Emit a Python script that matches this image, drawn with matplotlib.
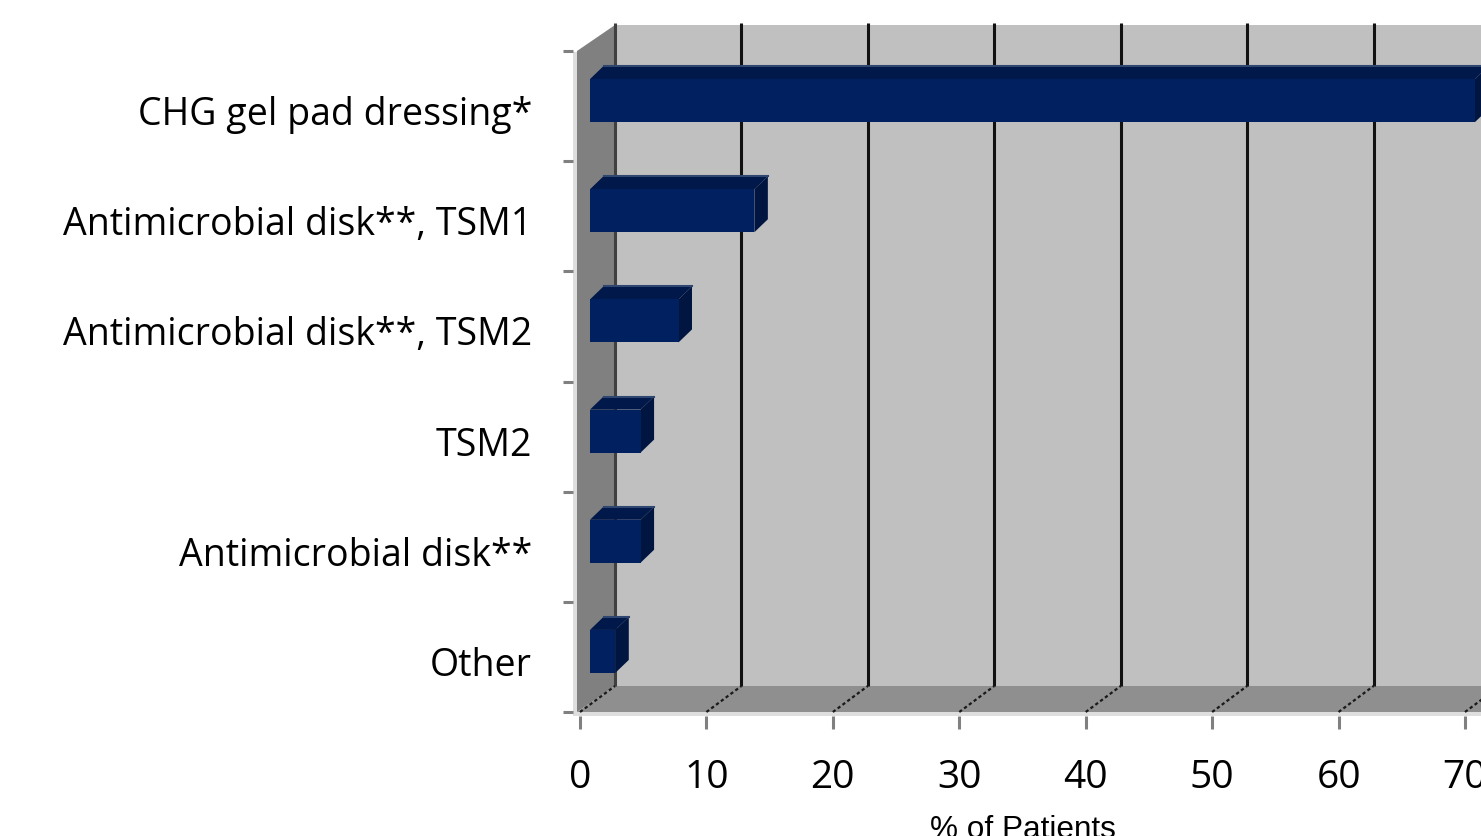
import matplotlib
matplotlib.use("Agg")
import matplotlib.pyplot as plt
from matplotlib.patches import Polygon, Rectangle
from matplotlib.transforms import offset_copy

# ---- data -------------------------------------------------------------
categories = [
    "CHG gel pad dressing*",
    "Antimicrobial disk**, TSM1",
    "Antimicrobial disk**, TSM2",
    "TSM2",
    "Antimicrobial disk**",
    "Other",
]
values = [70, 13, 7, 4, 4, 2]
x_ticks = [0, 10, 20, 30, 40, 50, 60, 70]
x_label = "% of Patients"

# ---- figure / axes geometry (pixels) ----------------------------------
W, H = 1481, 837
DPI = 100
fig = plt.figure(figsize=(W / DPI, H / DPI), dpi=DPI)

x0_px, x70_px = 580, 1465          # front plane: value 0 and value 70
y_top_px, y_bot_px = 52, 713        # front plane: category band extent
px_per_unit = (x70_px - x0_px) / 70.0
n = len(categories)
py_per_cat = (y_bot_px - y_top_px) / n

ax = fig.add_axes([x0_px / W, 1 - y_bot_px / H,
                   (W - x0_px) / W, (y_bot_px - y_top_px) / H])
xmax = (W - x0_px) / px_per_unit
ax.set_xlim(0, xmax)
ax.set_ylim(0, n)
ax.axis("off")


def dx(p):
    return p / px_per_unit


def dy(p):
    return p / py_per_cat


# 3-D depth of the chart box
wdx, wdy = dx(35), dy(26)

BACK = "#c0c0c0"
SIDE = "#808080"
FLOOR = "#8f8f8f"
STRIP = "#dedede"

# back wall
ax.add_patch(Rectangle((wdx, wdy), xmax + 5, n, facecolor=BACK,
                       edgecolor="none", zorder=1, clip_on=False))
# floor
ax.add_patch(Polygon([(dx(-3), 0), (xmax + 5, 0), (xmax + 5, wdy), (wdx, wdy)],
                     closed=True, facecolor=FLOOR, edgecolor="none",
                     zorder=2, clip_on=False))
# side wall
ax.add_patch(Polygon([(dx(-3), 0), (wdx, wdy), (wdx, n + wdy), (dx(-3), n)],
                     closed=True, facecolor=SIDE, edgecolor="none",
                     zorder=2, clip_on=False))
# light edges of the box
ax.add_patch(Rectangle((dx(-7), 0), dx(4), n - dy(1), facecolor=STRIP,
                       edgecolor="none", zorder=2, clip_on=False))
ax.add_patch(Rectangle((dx(-7), dy(-4)), xmax + 5, dy(4), facecolor=STRIP,
                       edgecolor="none", zorder=2, clip_on=False))

# gridlines on the back wall and their traces across the floor
for v in x_ticks:
    col = "#404040" if v == 0 else "#111111"
    ax.plot([v + wdx, v + wdx], [wdy, n + wdy + dy(2)], color=col,
            lw=2.2, solid_capstyle="butt", zorder=3, clip_on=False)
    ax.plot([v, v + wdx], [0, wdy], color="#1a1a1a", lw=1.6,
            ls=(0, (1.5, 1.2)), zorder=3, clip_on=False)

# axis ticks
for k in range(n + 1):
    ax.plot([dx(-17), dx(-7)], [k, k], color="#808080", lw=2.2,
            solid_capstyle="butt", zorder=3, clip_on=False)
for v in x_ticks:
    ax.plot([v, v], [dy(-4), dy(-17)], color="#808080", lw=2.2,
            solid_capstyle="butt", zorder=3, clip_on=False)

# ---- 3-D bars -----------------------------------------------------------
FRONT = "#00205f"
TOP = "#00184a"
RIGHT = "#00153f"
bx, by = dx(10), dy(5.5)          # bar front plane inside the box
half = dy(21.5)                   # half bar thickness
bdx, bdy = dx(13.5), dy(13)       # bar depth

for i, v in enumerate(values):
    c = n - i - 0.5
    x0, x1 = bx, v + bx
    y0, y1 = c - half + by, c + half + by
    ax.add_patch(Polygon([(x0, y1), (x0 + bdx, y1 + bdy),
                          (x1 + bdx, y1 + bdy), (x1, y1)], closed=True,
                         facecolor=TOP, edgecolor="none", zorder=5,
                         clip_on=False))
    ax.add_patch(Polygon([(x1, y0), (x1, y1), (x1 + bdx, y1 + bdy),
                          (x1 + bdx, y0 + bdy)], closed=True,
                         facecolor=RIGHT, edgecolor="none", zorder=5,
                         clip_on=False))
    ax.add_patch(Rectangle((x0, y0), x1 - x0, y1 - y0, facecolor=FRONT,
                           edgecolor="none", zorder=6, clip_on=False))
    ax.plot([x0 + bdx, x1 + bdx], [y1 + bdy, y1 + bdy], color="#2f4670",
            lw=1.5, zorder=6, clip_on=False)

# ---- text ----------------------------------------------------------------
cat_font = dict(family=["Open Sans", "DejaVu Sans"], size=27, color="black")
for i, name in enumerate(categories):
    c = n - i - 0.5
    tr = offset_copy(ax.transData, fig=fig, x=-48, y=-18, units="dots")
    ax.text(0, c, name, transform=tr, ha="right", va="baseline",
            clip_on=False, **cat_font)

tick_font = dict(family=["Open Sans", "DejaVu Sans"], size=28, color="black")
for v in x_ticks:
    tr = offset_copy(ax.transData, fig=fig, x=0, y=-75, units="dots")
    ax.text(v, 0, str(v), transform=tr, ha="center", va="baseline",
            clip_on=False, **tick_font)

tr = offset_copy(ax.transData, fig=fig, x=0, y=-125, units="dots")
ax.text(35, 0, x_label, transform=tr, ha="center", va="baseline",
        family=["Liberation Sans", "DejaVu Sans"], size=22.7, color="black",
        clip_on=False)

fig.savefig("out.png", dpi=DPI, facecolor="white")
